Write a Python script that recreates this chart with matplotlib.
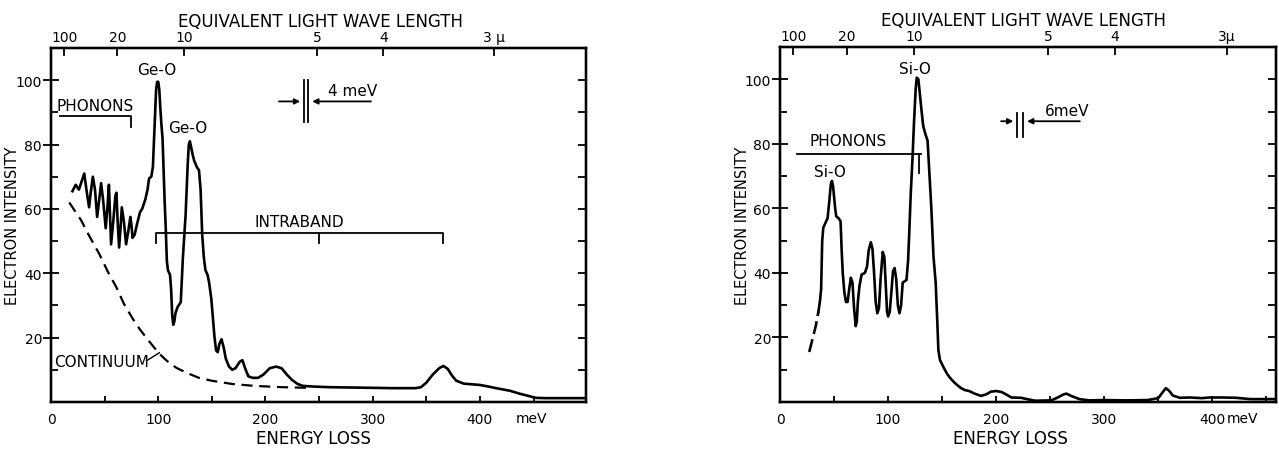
import matplotlib
matplotlib.use('Agg')
import matplotlib.pyplot as plt
from matplotlib.ticker import MultipleLocator

# left panel: Ge-O, energy loss (meV) vs electron intensity
ge_energy = [20, 23, 26, 29, 31, 33, 35.5, 37, 39, 41, 43, 45, 46.7, 48.5, 51, 52.5, 54, 55, 56,
             58, 60, 61, 62, 63.5, 65, 66, 68, 70, 72, 74, 75, 76, 78, 80, 83, 85, 88, 90, 91.5,
             93.5, 95, 96.5, 98, 99, 100, 101, 102, 103, 104, 105, 106, 107, 108, 109, 111, 112,
             113, 114, 115, 116, 118, 121, 122, 123, 124, 125.5, 126.5, 127.5, 128.5, 129.5,
             130.5, 132, 133.5, 136, 138, 139.5, 141, 142.5, 144, 146, 147.5, 149.5, 151, 152.5,
             154, 155.5, 157, 159, 161, 163, 166, 169, 172, 176, 178.5, 181, 184, 188, 193, 198,
             204, 210, 215, 220, 225, 230, 235, 245, 260, 280, 300, 320, 340, 345, 350, 356, 362,
             366, 370, 374, 378, 385, 392, 400, 408, 415, 420, 428, 437, 445, 452, 460, 480, 499]
ge_intensity = [65.5, 67.5, 66, 69, 71, 66, 60.5, 65, 70, 66, 57.5, 63, 68, 63, 54, 60, 67.5, 58, 49,
                56, 64, 65, 57, 48, 55, 60.5, 56, 49, 53, 57.5, 55, 51, 52, 55, 59, 60, 63, 66, 69.5,
                70, 73, 85, 97, 99.5, 99.5, 97, 91, 86, 82, 72, 62, 54, 44, 41, 39.5, 35,
                27, 24, 25, 27.5, 29.5, 31, 38, 45, 50, 58, 66, 74, 80, 81,
                79.5, 77, 75, 73, 72, 66, 52, 45, 41, 39.5, 37, 32, 26, 20,
                16, 15.5, 18, 19.5, 17, 13.5, 11, 10, 10.5, 12.5, 13, 10.5, 8, 7.5, 7.5, 8.5,
                10.5, 11, 10.5, 8.5, 6.8, 5.6, 5, 4.8, 4.6, 4.5, 4.4, 4.3, 4.3, 4.6, 6, 8.5, 10.5,
                11.2, 10.3, 8.2, 6.6, 5.7, 5.5, 5.3, 4.8, 4.3, 4.0, 3.5, 2.6, 1.9, 1.3, 1.2, 1.2, 1.2]
ge_cont_energy = [17, 22, 28, 35, 45, 53, 61, 68, 76, 83, 90, 96, 101, 108, 117, 127, 138, 150,
                  169, 190, 216, 240]
ge_cont_intensity = [62, 59.5, 56.5, 52, 46, 40.5, 35.6, 30.5, 26, 22.5, 19.5, 17, 15, 12.8, 10.6,
                     9, 7.5, 6.6, 5.6, 5, 4.6, 4.4]

# right panel: Si-O
si_tail_energy = [27, 30, 33, 35.5]
si_tail_intensity = [15.5, 19.5, 23.5, 28]
si_energy = [35.5, 37, 38, 39, 40, 42, 44, 45.5, 47, 48, 49, 50, 51, 52, 54, 56, 57, 58, 59.5, 61,
             62.5, 64, 65.5, 67, 68.5, 70, 71, 72, 73.5, 75.5, 78.5, 80.5, 82, 84, 85.5, 87, 88.5,
             90, 91.5, 93, 95, 96.5, 98, 99, 100, 101.5, 103, 104.5, 106, 107.5, 109, 110.5, 112,
             113.5, 117, 118.5, 119.5, 121, 122.5, 124, 125.5, 126.5, 128, 129.5, 131, 132.5,
             134.5, 136.5, 138, 140, 142, 144, 145.5, 146.5, 148, 151.5, 155, 158, 162, 167, 171,
             175, 180, 186, 191, 195, 200, 205, 210, 214, 223, 230, 236, 251, 257, 262, 265, 270,
             277, 286, 300, 320, 340, 350, 354, 357, 360, 363.5, 370, 379, 390, 398, 410, 422,
             435, 459]
si_intensity = [28, 31.5, 35, 50, 54, 55.5, 57, 62, 67.5, 68.5, 67, 63.5, 60, 57.5, 57, 56, 47, 40,
                34, 31, 31, 35, 38.5, 37, 29, 23.5, 25, 31, 36, 39.5, 40, 42, 47, 49.5, 47.5, 40, 31,
                27.5, 29, 38, 46.5, 45, 35, 28, 26.5, 28, 34, 40.5, 41.5, 38, 30, 27.5, 30,
                37, 37.8, 44, 52, 65, 75, 87, 97, 100.5, 100, 95, 90, 85.5,
                83, 81, 72, 60, 45, 37, 25, 16, 13, 10.6, 8.5, 7.2, 5.8, 4.4, 3.7,
                3.4, 2.6, 1.9, 2.4, 3.2, 3.4, 3.1, 2.2, 1.4, 1.3, 0.8, 0.4, 0.5, 1.4, 2.3, 2.6, 1.8,
                0.9, 0.5, 0.6, 0.5, 0.6, 1.2, 3, 4.3, 3.5, 2, 1.3, 1.4, 1.2, 1.4, 1.4, 1.3,
                0.9, 0.9]

wavelengths = [100, 20, 10, 5, 4, 3]
ge_wl_labels = ['100', '20', '10', '5', '4', '3 μ']
si_wl_labels = ['100', '20', '10', '5', '4', '3μ']
energy_ticks = [0, 100, 200, 300, 400]
intensity_ticks = [20, 40, 60, 80, 100]

plt.rcParams['font.family'] = 'DejaVu Sans'
plt.rcParams['font.size'] = 11

fig = plt.figure(figsize=(12.79, 4.52), dpi=100)
ax1 = fig.add_axes([0.0399, 0.1084, 0.4183, 0.7832])
ax2 = fig.add_axes([0.6099, 0.1084, 0.3878, 0.7854])


def frame(ax, xmax, wl_labels, title_x, xlabel_x, ylabel_x):
    ax.set_xlim(0, xmax)
    ax.set_ylim(0, 110)
    for s in ax.spines.values():
        s.set_linewidth(1.6)
    ax.set_xticks(energy_ticks)
    ax.xaxis.set_minor_locator(MultipleLocator(50))
    ax.set_yticks(intensity_ticks)
    ax.yaxis.set_minor_locator(MultipleLocator(10))
    ax.tick_params(axis='x', which='both', direction='in', length=4, width=1.3,
                   labelsize=10, pad=7)
    ax.tick_params(axis='y', which='major', direction='inout', length=11, width=1.3,
                   labelsize=10, pad=1)
    ax.tick_params(axis='y', which='minor', direction='in', length=5, width=1.3)
    ax.set_xlabel('ENERGY LOSS', fontsize=12)
    ax.xaxis.set_label_coords(xlabel_x, -0.077)
    ax.set_ylabel('ELECTRON INTENSITY', fontsize=10.5)
    ax.yaxis.set_label_coords(ylabel_x, 0.5)

    # right spine ticks every 10
    axr = ax.twinx()
    axr.set_ylim(0, 110)
    axr.yaxis.set_major_locator(MultipleLocator(10))
    axr.tick_params(axis='y', direction='in', length=6, width=1.3, labelright=False)

    # top axis: equivalent light wave length (micron)
    axt = ax.twiny()
    axt.set_xlim(0, xmax)
    axt.set_xticks([1239.84 / w for w in wavelengths])
    axt.set_xticklabels(wl_labels)
    axt.tick_params(axis='x', direction='in', length=6, width=1.3, labelsize=10, pad=3)
    axt.set_xlabel('EQUIVALENT LIGHT WAVE LENGTH', fontsize=12)
    axt.xaxis.set_label_coords(title_x, 1.062)
    for s in list(axr.spines.values()) + list(axt.spines.values()):
        s.set_linewidth(1.6)


frame(ax1, 499, ge_wl_labels, 0.503, 0.49, -0.058)
frame(ax2, 459, si_wl_labels, 0.49, 0.464, -0.06)

# ---- Ge panel
ax1.plot(ge_energy, ge_intensity, color='black', lw=1.9)
ax1.plot(ge_cont_energy, ge_cont_intensity, color='black', lw=1.6, ls=(0, (5, 3)))
ax1.text(448, -0.044, 'meV', transform=ax1.get_xaxis_transform(), ha='center', va='center',
         fontsize=10)
ax1.text(98.6, 103.4, 'Ge-O', ha='center', va='center', fontsize=11)
ax1.text(127.6, 85.4, 'Ge-O', ha='center', va='center', fontsize=11)
ax1.text(41.5, 92, 'PHONONS', ha='center', va='center', fontsize=11)
ax1.plot([8, 75, 75], [88.8, 88.8, 85.4], color='black', lw=1.3)
ax1.text(232, 56, 'INTRABAND', ha='center', va='center', fontsize=11)
ax1.plot([98, 98, 366, 366], [49.5, 52.6, 52.6, 49.5], color='black', lw=1.3)
ax1.plot([250, 250], [52.6, 49.5], color='black', lw=1.3)
ax1.text(3.3, 12.5, 'CONTINUUM', ha='left', va='center', fontsize=11)
ax1.plot([90, 101], [13, 15.3], color='black', lw=1)
# resolution marker
ax1.plot([236, 236], [87, 100], color='black', lw=1.3)
ax1.plot([240, 240], [87, 100], color='black', lw=1.3)
ax1.annotate('', xy=(235, 93.4), xytext=(210, 93.4),
             arrowprops=dict(arrowstyle='-|>', color='black', lw=1.3, mutation_scale=8))
ax1.annotate('', xy=(241, 93.4), xytext=(301, 93.4),
             arrowprops=dict(arrowstyle='-|>', color='black', lw=1.3, mutation_scale=8))
ax1.text(281, 94.5, '4 meV', ha='center', va='bottom', fontsize=11)

# ---- Si panel
ax2.plot(si_energy, si_intensity, color='black', lw=1.9)
ax2.plot(si_tail_energy, si_tail_intensity, color='black', lw=1.9, ls=(0, (5, 2)))
ax2.text(428, -0.044, 'meV', transform=ax2.get_xaxis_transform(), ha='center', va='center',
         fontsize=10)
ax2.text(125, 103.4, 'Si-O', ha='center', va='center', fontsize=11)
ax2.text(46.3, 71.3, 'Si-O', ha='center', va='center', fontsize=11)
ax2.text(63, 81, 'PHONONS', ha='center', va='center', fontsize=11)
ax2.plot([16, 130], [77, 77], color='black', lw=1.3)
ax2.plot([129, 129], [77, 71], color='black', lw=1.3)
ax2.plot([219.5, 219.5], [82.2, 89.4], color='black', lw=1.3)
ax2.plot([225, 225], [82.2, 89.4], color='black', lw=1.3)
ax2.annotate('', xy=(218.5, 87), xytext=(202, 87),
             arrowprops=dict(arrowstyle='-|>', color='black', lw=1.3, mutation_scale=8))
ax2.annotate('', xy=(226, 87), xytext=(280, 87),
             arrowprops=dict(arrowstyle='-|>', color='black', lw=1.3, mutation_scale=8))
ax2.text(266, 88, '6meV', ha='center', va='bottom', fontsize=11)

fig.savefig('out.png', dpi=100)
